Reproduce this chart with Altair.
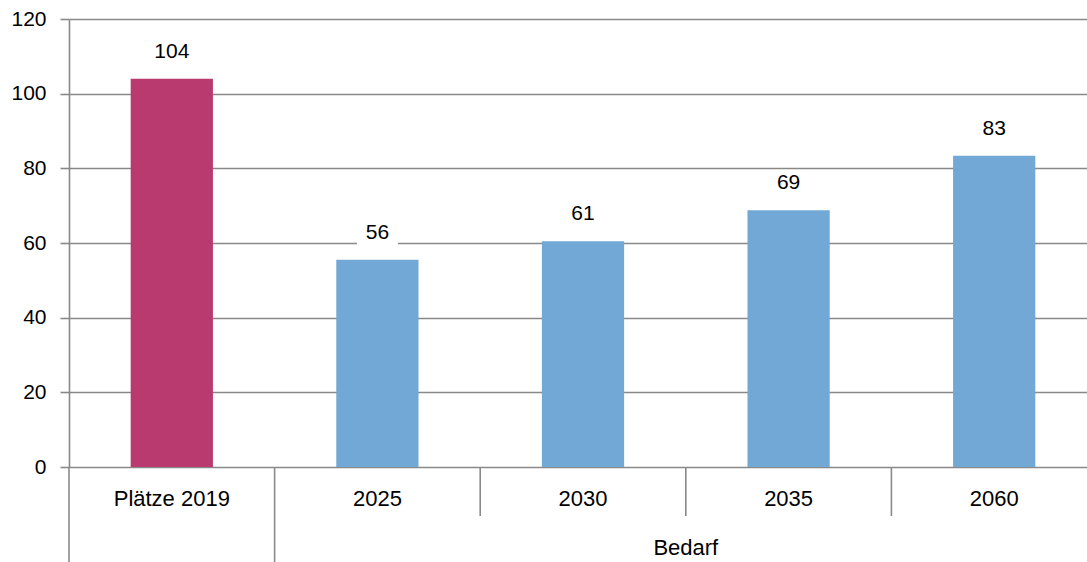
import altair as alt
import pandas as pd

categories = ["Plätze 2019", "2025", "2030", "2035", "2060"]
values = [104, 55.5, 60.5, 68.8, 83.4]
value_labels = ["104", "56", "61", "69", "83"]
kinds = ["Plätze", "Bedarf", "Bedarf", "Bedarf", "Bedarf"]
group_label = "Bedarf"
group_members = ["2025", "2030", "2035", "2060"]
group_starts = ["Plätze 2019", "2025"]
y_ticks = [0, 20, 40, 60, 80, 100, 120]

PINK = "#B83A6E"
BLUE = "#72A8D5"
GRID = "#898989"
FONT = "Liberation Sans"

W, H = 1018, 448

df = pd.DataFrame({"cat": categories, "val": values, "lab": value_labels, "kind": kinds})
long_df = pd.DataFrame({"cat": group_starts})
short_df = pd.DataFrame({"cat": [c for c in categories if c not in group_starts]})
mid_cat = group_members[len(group_members) // 2]
grp_df = pd.DataFrame({"cat": [mid_cat], "lab": [group_label]})

xscale = alt.Scale(domain=categories, range=[0, 1028], paddingInner=0, paddingOuter=0)
yscale = alt.Scale(domain=[0, 120], nice=False)

base = alt.Chart(df)

bars = base.mark_bar(width=alt.RelativeBandSize(0.4)).encode(
    x=alt.X("cat:N", scale=xscale, sort=categories, axis=None),
    y=alt.Y("val:Q", scale=yscale,
            axis=alt.Axis(values=y_ticks, title=None, grid=True, gridColor=GRID, gridWidth=1.6,
                          gridOpacity=1, domainColor=GRID, domainWidth=1.6, tickColor=GRID,
                          tickWidth=1.6, tickSize=9, labelFont=FONT, labelFontSize=21,
                          labelColor="#000000", labelPadding=14)),
    color=alt.Color("kind:N", scale=alt.Scale(domain=["Plätze", "Bedarf"], range=[PINK, BLUE]),
                    legend=None),
)

label_bg = base.mark_point(
    shape="M-1,-0.6L1,-0.6L1,0.6L-1,0.6Z", filled=True, color="white", opacity=1,
    size=1681, yOffset=-27,
).encode(
    x=alt.X("cat:N", scale=xscale, sort=categories),
    y=alt.Y("val:Q", scale=yscale),
)

labels = base.mark_text(font=FONT, fontSize=21, color="#000000", baseline="middle", dy=-27).encode(
    x=alt.X("cat:N", scale=xscale, sort=categories),
    y=alt.Y("val:Q", scale=yscale),
    text="lab:N",
)

cat_labels = base.mark_text(font=FONT, fontSize=22, color="#000000", baseline="middle").encode(
    x=alt.X("cat:N", scale=xscale, sort=categories),
    y=alt.value(H + 32),
    text="cat:N",
)

seps_long = alt.Chart(long_df).mark_rule(color=GRID, strokeWidth=1.6).encode(
    x=alt.X("cat:N", scale=xscale, sort=categories, bandPosition=0),
    y=alt.value(H),
    y2=alt.value(H + 95),
)
seps_short = alt.Chart(short_df).mark_rule(color=GRID, strokeWidth=1.6).encode(
    x=alt.X("cat:N", scale=xscale, sort=categories, bandPosition=0),
    y=alt.value(H),
    y2=alt.value(H + 49),
)

grp = alt.Chart(grp_df).mark_text(font=FONT, fontSize=22, color="#000000", baseline="middle").encode(
    x=alt.X("cat:N", scale=xscale, sort=categories, bandPosition=0),
    y=alt.value(H + 81),
    text="lab:N",
)

chart = alt.layer(bars, label_bg, labels, cat_labels, seps_long, seps_short, grp).properties(
    width=W, height=H,
    autosize=alt.AutoSizeParams(type="none"),
    padding={"left": 69, "top": 19, "right": 0, "bottom": 95},
    background="white",
).configure_view(stroke=None)

chart.save("out.html", embed_options={"renderer": "svg", "actions": False})
